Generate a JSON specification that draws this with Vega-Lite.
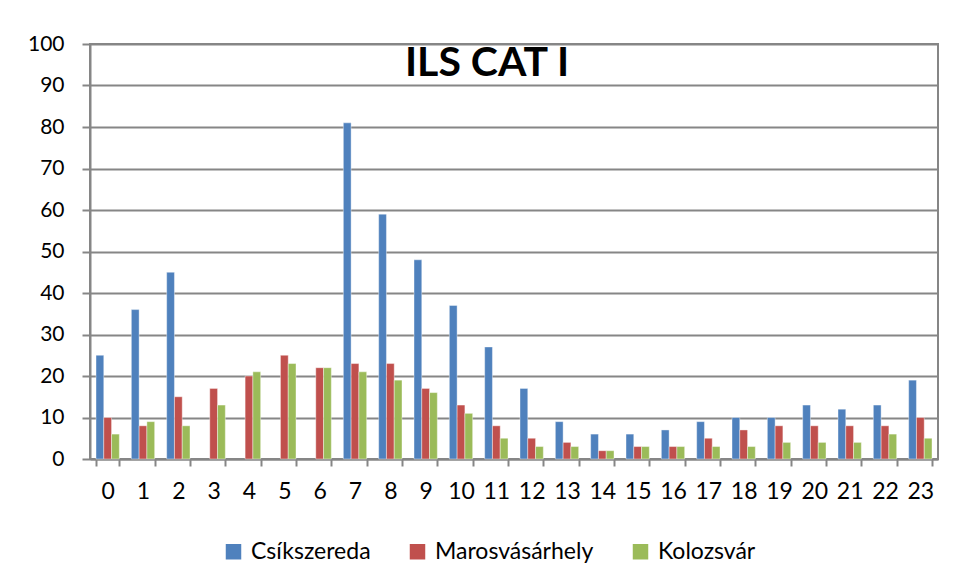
{
  "$schema": "https://vega.github.io/schema/vega-lite/v6.json",
  "width": 848,
  "height": 415,
  "autosize": "none",
  "padding": {"left": 90, "top": 44, "right": 17, "bottom": 124},
  "background": "white",
  "title": {"text": "ILS CAT I", "fontSize": 41, "fontWeight": "bold", "font": "Lato", "color": "#000000", "offset": -52, "dx": -27, "anchor": "middle"},
  "data": {"values": [
    {"hour": 0, "C": 25, "M": 10, "K": 6},
    {"hour": 1, "C": 36, "M": 8, "K": 9},
    {"hour": 2, "C": 45, "M": 15, "K": 8},
    {"hour": 3, "C": 0, "M": 17, "K": 13},
    {"hour": 4, "C": 0, "M": 20, "K": 21},
    {"hour": 5, "C": 0, "M": 25, "K": 23},
    {"hour": 6, "C": 0, "M": 22, "K": 22},
    {"hour": 7, "C": 81, "M": 23, "K": 21},
    {"hour": 8, "C": 59, "M": 23, "K": 19},
    {"hour": 9, "C": 48, "M": 17, "K": 16},
    {"hour": 10, "C": 37, "M": 13, "K": 11},
    {"hour": 11, "C": 27, "M": 8, "K": 5},
    {"hour": 12, "C": 17, "M": 5, "K": 3},
    {"hour": 13, "C": 9, "M": 4, "K": 3},
    {"hour": 14, "C": 6, "M": 2, "K": 2},
    {"hour": 15, "C": 6, "M": 3, "K": 3},
    {"hour": 16, "C": 7, "M": 3, "K": 3},
    {"hour": 17, "C": 9, "M": 5, "K": 3},
    {"hour": 18, "C": 10, "M": 7, "K": 3},
    {"hour": 19, "C": 10, "M": 8, "K": 4},
    {"hour": 20, "C": 13, "M": 8, "K": 4},
    {"hour": 21, "C": 12, "M": 8, "K": 4},
    {"hour": 22, "C": 13, "M": 8, "K": 6},
    {"hour": 23, "C": 19, "M": 10, "K": 5}
  ]},
  "transform": [
    {"fold": ["C", "M", "K"], "as": ["code", "value"]},
    {"lookup": "code", "from": {"data": {"values": [
      {"code": "C", "city": "Csíkszereda"},
      {"code": "M", "city": "Marosvásárhely"},
      {"code": "K", "city": "Kolozsvár"}
    ]}, "key": "code", "fields": ["city"]}},
    {"filter": "datum.value > 0"}
  ],
  "mark": {"type": "bar", "stroke": "white", "strokeWidth": 0.8, "strokeOpacity": 0.5},
  "encoding": {
    "x": {"field": "hour", "type": "ordinal", "sort": "ascending",
      "scale": {"domain": [0,1,2,3,4,5,6,7,8,9,10,11,12,13,14,15,16,17,18,19,20,21,22,23], "paddingInner": 0.34, "paddingOuter": 0.17},
      "axis": {"title": null, "labelAngle": 0, "labelFontSize": 23, "labelFont": "Lato", "labelColor": "#000000", "labelPadding": 14, "domainColor": "#868686", "domainWidth": 2, "tickColor": "#868686", "tickWidth": 2, "tickSize": 7, "tickBand": "extent", "grid": false}},
    "xOffset": {"field": "city", "type": "nominal", "scale": {"domain": ["Csíkszereda", "Marosvásárhely", "Kolozsvár"]}},
    "y": {"field": "value", "type": "quantitative",
      "scale": {"domain": [0, 100]},
      "axis": {"title": null, "values": [0, 10, 20, 30, 40, 50, 60, 70, 80, 90, 100], "labelFontSize": 21, "labelFont": "Lato", "labelColor": "#000000", "labelPadding": 18, "domainColor": "#868686", "domainWidth": 2, "tickColor": "#868686", "tickWidth": 2, "tickSize": 8, "gridColor": "#868686", "gridWidth": 2}},
    "color": {"field": "city", "type": "nominal",
      "scale": {"domain": ["Csíkszereda", "Marosvásárhely", "Kolozsvár"], "range": ["#4F81BD", "#C0504D", "#9BBB59"]},
      "legend": {"title": null, "orient": "none", "legendX": 132, "legendY": 496, "direction": "horizontal", "columns": 3, "symbolType": "square", "symbolSize": 240, "symbolStrokeWidth": 0, "labelFontSize": 23, "labelFont": "Lato", "labelColor": "#000000", "columnPadding": 35, "labelOffset": 6}}
  },
  "config": {"view": {"stroke": "#868686", "strokeWidth": 2}}
}
